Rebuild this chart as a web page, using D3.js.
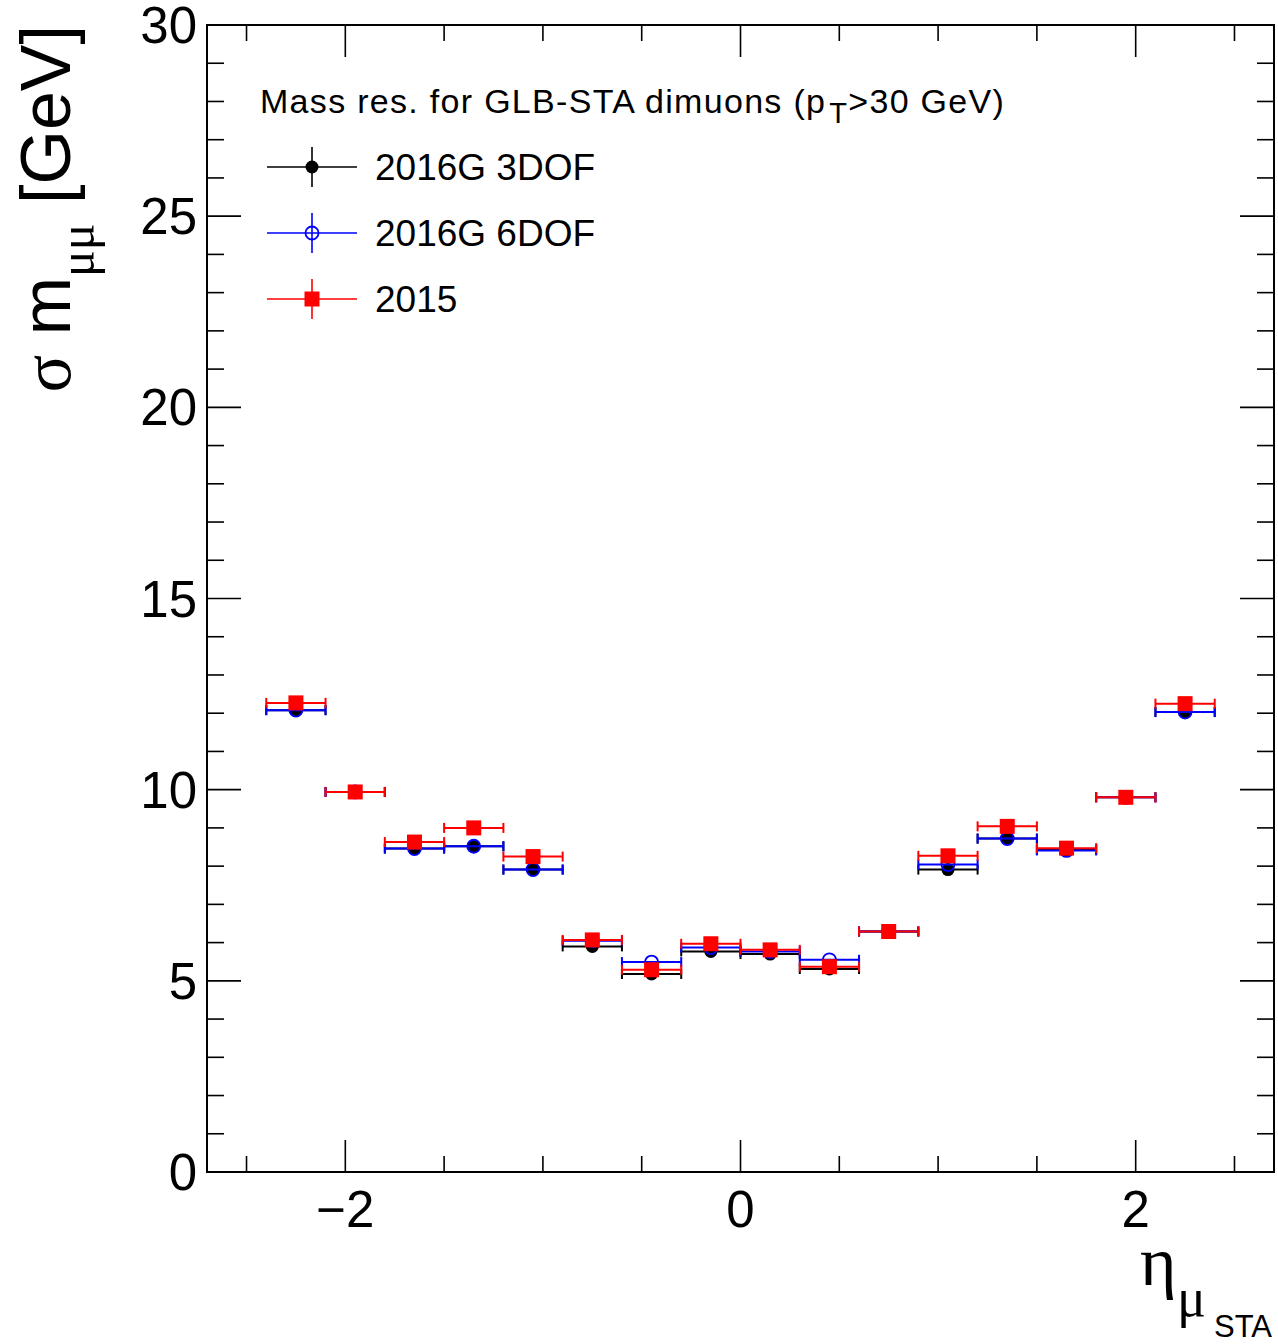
<!DOCTYPE html>
<html>
<head>
<meta charset="utf-8">
<script src="https://cdn.jsdelivr.net/npm/d3@7"></script>
<style>
  body { margin: 0; background: #fff; }
  text { font-family: "Liberation Sans", Arial, Helvetica, sans-serif; }
  .greek { font-family: "Liberation Serif", "Times New Roman", serif; }
</style>
</head>
<body>
<script>
// bin centres in eta, half width 0.15
var etaBins = [-2.25, -1.95, -1.65, -1.35, -1.05, -0.75, -0.45, -0.15,
               0.15, 0.45, 0.75, 1.05, 1.35, 1.65, 1.95, 2.25];
var halfWidth = 0.15;

// sigma m_mumu [GeV]
var res3dof = [12.08, 9.94, 8.46, 8.52, 7.91, 5.90, 5.18, 5.77,
               5.70, 5.31, 6.29, 7.91, 8.72, 8.43, 9.80, 12.03];
var res6dof = [12.08, 9.94, 8.46, 8.52, 7.91, 6.05, 5.49, 5.87,
               5.77, 5.55, 6.29, 8.04, 8.72, 8.41, 9.80, 12.03];
var res2015 = [12.27, 9.94, 8.63, 9.00, 8.25, 6.07, 5.29, 5.97,
               5.81, 5.37, 6.29, 8.27, 9.04, 8.47, 9.80, 12.25];

var xMajor = [-2, 0, 2];
var xMinor = [-2.5, -1.5, -1, -0.5, 0.5, 1, 1.5, 2.5];
var yMajor = [0, 5, 10, 15, 20, 25, 30];

var legendTitle = "Mass res. for GLB-STA dimuons (p";
var seriesNames = ["2016G 3DOF", "2016G 6DOF", "2015"];

var W = 1278, H = 1344;
var margin = { top: 25, right: 4, bottom: 172, left: 207 };

var svg = d3.select("body").append("svg")
    .attr("width", W)
    .attr("height", H);

var x = d3.scaleLinear().domain([-2.7, 2.7]).range([margin.left, W - margin.right]);
var y = d3.scaleLinear().domain([0, 30]).range([H - margin.bottom, margin.top]);

var x0 = x.range()[0], x1 = x.range()[1], y0 = y.range()[0], y1 = y.range()[1];

// ---- ticks (inside, mirrored on all four sides) ----
var ticks = svg.append("g").attr("stroke", "#000").attr("stroke-width", 1.6);

function xTicks(vals, len) {
    vals.forEach(function (v) {
        ticks.append("line").attr("x1", x(v)).attr("x2", x(v)).attr("y1", y0).attr("y2", y0 - len);
        ticks.append("line").attr("x1", x(v)).attr("x2", x(v)).attr("y1", y1).attr("y2", y1 + len);
    });
}
function yTicks(vals, len) {
    vals.forEach(function (v) {
        ticks.append("line").attr("x1", x0).attr("x2", x0 + len).attr("y1", y(v)).attr("y2", y(v));
        ticks.append("line").attr("x1", x1).attr("x2", x1 - len).attr("y1", y(v)).attr("y2", y(v));
    });
}
xTicks(xMajor, 32);
xTicks(xMinor, 16);
yTicks(yMajor, 34);
yTicks(d3.range(0, 31).filter(function (v) { return v % 5 !== 0; }), 17);

// frame
svg.append("rect")
    .attr("x", x0).attr("y", y1)
    .attr("width", x1 - x0).attr("height", y0 - y1)
    .attr("fill", "none").attr("stroke", "#000").attr("stroke-width", 2);

// tick labels
svg.append("g").selectAll("text").data(xMajor).enter().append("text")
    .attr("x", function (d) { return x(d); })
    .attr("y", 1227)
    .attr("text-anchor", "middle")
    .style("font-size", "51px")
    .text(function (d) { return d < 0 ? "\u2212" + Math.abs(d) : d; });

svg.append("g").selectAll("text").data(yMajor).enter().append("text")
    .attr("x", 197)
    .attr("y", function (d) { return y(d) + 18; })
    .attr("text-anchor", "end")
    .style("font-size", "51px")
    .text(function (d) { return d; });

// axis titles
var yl = svg.append("text")
    .attr("transform", "translate(70,25) rotate(-90)")
    .attr("text-anchor", "end")
    .style("font-size", "70px");
yl.append("tspan").attr("class", "greek").text("\u03c3");
yl.append("tspan").text(" m");
yl.append("tspan").attr("class", "greek").attr("dy", 24).style("font-size", "50px").text("\u03bc\u03bc");
yl.append("tspan").attr("dy", -24).text(" [GeV]");

svg.append("text").attr("class", "greek").attr("x", 1140).attr("y", 1285).style("font-size", "70px").text("\u03b7");
svg.append("text").attr("class", "greek").attr("x", 1177).attr("y", 1316).style("font-size", "54px").text("\u03bc");
svg.append("text").attr("x", 1272).attr("y", 1337).attr("text-anchor", "end").style("font-size", "31px").text("STA");

// ---- data ----
var series = [
    { name: seriesNames[0], vals: res3dof, color: "#000", marker: "dot" },
    { name: seriesNames[1], vals: res6dof, color: "#0000ff", marker: "open" },
    { name: seriesNames[2], vals: res2015, color: "#ff0000", marker: "square" }
];

function drawMarker(g, kind, color, cx, cy) {
    if (kind === "dot") {
        g.append("circle").attr("cx", cx).attr("cy", cy).attr("r", 6.5).attr("fill", color);
    } else if (kind === "open") {
        g.append("circle").attr("cx", cx).attr("cy", cy).attr("r", 6.5)
            .attr("fill", "none").attr("stroke", color).attr("stroke-width", 1.8);
    } else {
        g.append("rect").attr("x", cx - 7.5).attr("y", cy - 7.5)
            .attr("width", 15).attr("height", 15).attr("fill", color);
    }
}

var plot = svg.append("g");
series.forEach(function (s) {
    var g = plot.append("g").attr("stroke-width", 2);
    etaBins.forEach(function (e, i) {
        var cy = y(s.vals[i]);
        var xa = x(e - halfWidth), xb = x(e + halfWidth);
        g.append("line").attr("x1", xa).attr("x2", xb).attr("y1", cy).attr("y2", cy).attr("stroke", s.color);
        g.append("line").attr("x1", xa).attr("x2", xa).attr("y1", cy - 5).attr("y2", cy + 5).attr("stroke", s.color);
        g.append("line").attr("x1", xb).attr("x2", xb).attr("y1", cy - 5).attr("y2", cy + 5).attr("stroke", s.color);
        drawMarker(g, s.marker, s.color, x(e), cy);
    });
});

// ---- legend ----
var lt = svg.append("text").attr("x", 260).attr("y", 113)
    .style("font-size", "34px").style("letter-spacing", "1.3px");
lt.append("tspan").text(legendTitle);
lt.append("tspan").attr("dx", 3).attr("dy", 10).style("font-size", "29px").text("T");
lt.append("tspan").attr("dy", -10).text(">30 GeV)");

series.forEach(function (s, i) {
    var cy = 167 + i * 66;
    var g = svg.append("g").attr("stroke-width", 1.6);
    g.append("line").attr("x1", 267).attr("x2", 357).attr("y1", cy).attr("y2", cy).attr("stroke", s.color);
    g.append("line").attr("x1", 312).attr("x2", 312).attr("y1", cy - 20).attr("y2", cy + 20).attr("stroke", s.color);
    drawMarker(g, s.marker, s.color, 312, cy);
    svg.append("text").attr("x", 375).attr("y", cy + 13).style("font-size", "37px").text(s.name);
});
</script>
</body>
</html>
